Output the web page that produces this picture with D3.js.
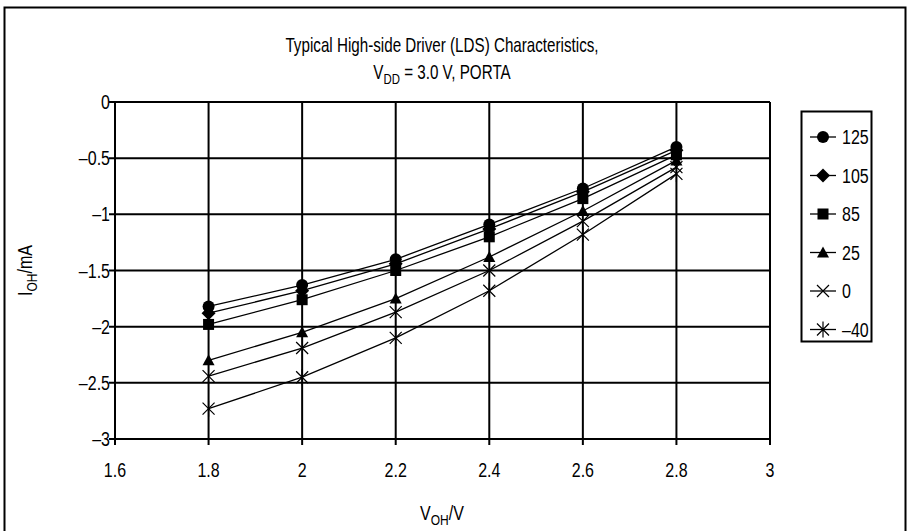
<!DOCTYPE html>
<html lang="en">
<head>
    <meta charset="UTF-8">
    <title>High-side Driver Characteristics</title>
    <style>
        body { margin: 0; background: #fff; }
        text { font-family: "Liberation Sans", Arial, sans-serif; fill: #000; }
    </style>
</head>
<body>
    <svg id="chart"></svg>

    <script src="https://d3js.org/d3.v7.min.js"></script>

    <script>
// Data
const voltages = [1.8, 2.0, 2.2, 2.4, 2.6, 2.8];
const temperatures = ["125", "105", "85", "25", "0", "–40"];
const markerTypes = ["circle", "diamond", "square", "triangle", "cross", "asterisk"];
const current125 = [-1.82, -1.63, -1.40, -1.09, -0.77, -0.40];
const current105 = [-1.88, -1.68, -1.44, -1.13, -0.80, -0.43];
const current85 = [-1.98, -1.76, -1.50, -1.20, -0.86, -0.47];
const current25 = [-2.30, -2.05, -1.75, -1.38, -0.97, -0.52];
const current0 = [-2.44, -2.19, -1.87, -1.50, -1.06, -0.58];
const currentM40 = [-2.73, -2.45, -2.10, -1.68, -1.18, -0.64];
const xTicks = [1.6, 1.8, 2, 2.2, 2.4, 2.6, 2.8, 3];
const yTicks = [0, -0.5, -1, -1.5, -2, -2.5, -3];

const allSeries = [current125, current105, current85, current25, current0, currentM40];

const width = 911;
const height = 531;

const svg = d3.select("#chart")
    .attr("width", width)
    .attr("height", height);

// the original uses a condensed Helvetica, so text is squeezed horizontally
function addText(parent, px, py, size, anchor, rotate, squeeze = 0.8) {
    return parent.append("g")
        .attr("transform", `translate(${px},${py})` + (rotate ? ` rotate(${rotate})` : "") + ` scale(${squeeze},1)`)
        .append("text")
        .attr("text-anchor", anchor)
        .style("font-size", size + "px");
}

// outer frame
svg.append("rect")
    .attr("x", 4.5)
    .attr("y", 7.5)
    .attr("width", 901)
    .attr("height", 540)
    .attr("fill", "none")
    .attr("stroke", "#000")
    .attr("stroke-width", 2);

const x = d3.scaleLinear().domain([1.6, 3]).range([115, 770]);
const y = d3.scaleLinear().domain([-3, 0]).range([439, 102]);

// grid
svg.append("g")
    .selectAll("line")
    .data(xTicks)
    .enter()
    .append("line")
    .attr("x1", d => x(d)).attr("x2", d => x(d))
    .attr("y1", y(0)).attr("y2", y(-3) + 6)
    .attr("stroke", "#000")
    .attr("stroke-width", 2);

svg.append("g")
    .selectAll("line")
    .data(yTicks)
    .enter()
    .append("line")
    .attr("x1", x(1.6) - 6).attr("x2", x(3))
    .attr("y1", d => y(d)).attr("y2", d => y(d))
    .attr("stroke", "#000")
    .attr("stroke-width", 2);

// tick labels
xTicks.forEach(d => {
    addText(svg, x(d), y(-3) + 38, 20, "middle").text(d);
});
yTicks.forEach(d => {
    addText(svg, x(1.6) - 5, y(d) + 7, 20, "end")
        .text(d === 0 ? "0" : String(d).replace("-", "–"));
});

// marker drawing
function drawMarker(g, type, cx, cy) {
    if (type === "circle") {
        g.append("circle").attr("cx", cx).attr("cy", cy).attr("r", 6).attr("fill", "#000");
    } else if (type === "diamond") {
        g.append("path")
            .attr("d", `M${cx},${cy - 7}L${cx + 7},${cy}L${cx},${cy + 7}L${cx - 7},${cy}Z`)
            .attr("fill", "#000");
    } else if (type === "square") {
        g.append("rect").attr("x", cx - 5.5).attr("y", cy - 5.5)
            .attr("width", 11).attr("height", 11).attr("fill", "#000");
    } else if (type === "triangle") {
        g.append("path")
            .attr("d", `M${cx},${cy - 6}L${cx + 6},${cy + 5}L${cx - 6},${cy + 5}Z`)
            .attr("fill", "#000");
    } else if (type === "cross") {
        g.append("path")
            .attr("d", `M${cx - 6},${cy - 6}L${cx + 6},${cy + 6}M${cx - 6},${cy + 6}L${cx + 6},${cy - 6}`)
            .attr("stroke", "#000").attr("stroke-width", 1.2);
    } else {
        g.append("path")
            .attr("d", `M${cx - 6},${cy - 6}L${cx + 6},${cy + 6}M${cx - 6},${cy + 6}L${cx + 6},${cy - 6}M${cx},${cy - 8}L${cx},${cy + 8}`)
            .attr("stroke", "#000").attr("stroke-width", 1.2);
    }
}

const line = d3.line()
    .x((d, i) => x(voltages[i]))
    .y(d => y(d));

// series lines, drawn from the coldest up so markers of 125 sit on top
const plot = svg.append("g");
allSeries.slice().reverse().forEach((values, k) => {
    const idx = allSeries.length - 1 - k;
    plot.append("path")
        .attr("d", line(values))
        .attr("fill", "none")
        .attr("stroke", "#000")
        .attr("stroke-width", 1.3);
    values.forEach((v, i) => drawMarker(plot, markerTypes[idx], x(voltages[i]), y(v)));
});

// legend
const legend = svg.append("g");
legend.append("rect")
    .attr("x", 801.5)
    .attr("y", 111.5)
    .attr("width", 70)
    .attr("height", 230)
    .attr("fill", "#fff")
    .attr("stroke", "#000")
    .attr("stroke-width", 2);

temperatures.forEach((t, i) => {
    const ly = 137 + i * 38.5;
    legend.append("line")
        .attr("x1", 810).attr("x2", 836)
        .attr("y1", ly).attr("y2", ly)
        .attr("stroke", "#000").attr("stroke-width", 1.3);
    drawMarker(legend, markerTypes[i], 823, ly);
    addText(legend, 842, ly + 7, 20, "start").text(t);
});

// title
addText(svg, 442, 52, 20, "middle", 0, 0.76)
    .text("Typical High-side Driver (LDS) Characteristics,");
const t2 = addText(svg, 442, 79, 20, "middle", 0, 0.76);
t2.append("tspan").text("V");
t2.append("tspan").attr("dy", 5).style("font-size", "15px").text("DD");
t2.append("tspan").attr("dy", -5).text(" = 3.0 V, PORTA");

// axis titles
const xt = addText(svg, 442, 520, 20, "middle");
xt.append("tspan").text("V");
xt.append("tspan").attr("dy", 5).style("font-size", "15px").text("OH");
xt.append("tspan").attr("dy", -5).text("/V");

const yt = addText(svg, 32, y(-1.5), 20, "middle", -90);
yt.append("tspan").text("I");
yt.append("tspan").attr("dy", 5).style("font-size", "15px").text("OH");
yt.append("tspan").attr("dy", -5).text("/mA");
    </script>
</body>
</html>
